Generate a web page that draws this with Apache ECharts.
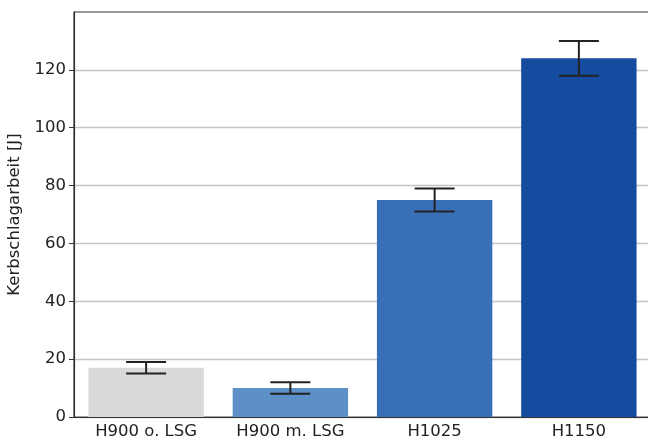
<!DOCTYPE html>
<html>
<head>
<meta charset="utf-8">
<script src="https://cdn.jsdelivr.net/npm/echarts@6/dist/echarts.min.js"></script>
<style>
  html, body { margin: 0; padding: 0; background: #fff; }
  #chart { width: 648px; height: 446px; }
</style>
</head>
<body>
<div id="chart"></div>
<script>
// Daten
const categories = ["H900 o. LSG", "H900 m. LSG", "H1025", "H1150"];
const values = [17, 10, 75, 124];
const errLow = [15, 8, 71, 118];
const errHigh = [19, 12, 79, 130];
const barColors = ["#d9dadc", "#5e90c8", "#3870b8", "#154ca0"];
const yTicks = [0, 20, 40, 60, 80, 100, 120];

let myChart = echarts.init(document.getElementById("chart"));

myChart.setOption({
  animation: false,
  textStyle: { fontFamily: "DejaVu Sans" },
  grid: {
    top: 12,
    left: 74,
    right: -3,
    bottom: 29,
    containLabel: false,
    outerBoundsMode: "none",
    show: true,
    borderColor: "#333",
    borderWidth: 1.2,
  },
  xAxis: {
    type: "category",
    data: categories,
    axisLine: { lineStyle: { color: "#333", width: 1.2 } },
    axisTick: { alignWithLabel: true, length: 5, lineStyle: { color: "#333" } },
    axisLabel: { color: "#222", fontSize: 16.5, margin: 6 },
  },
  yAxis: {
    type: "value",
    min: 0,
    max: 140,
    interval: 20,
    name: "Kerbschlagarbeit [J]",
    nameLocation: "middle",
    nameGap: 48,
    nameTextStyle: { color: "#222", fontSize: 16.5 },
    axisLine: { show: true, lineStyle: { color: "#333", width: 1.2 } },
    axisTick: { show: true, length: 5, lineStyle: { color: "#333" }, customValues: yTicks },
    axisLabel: { color: "#222", fontSize: 16.5, margin: 8, customValues: yTicks },
    splitLine: { lineStyle: { color: "#c4c4c4", width: 1.3 } },
  },
  series: [
    {
      type: "bar",
      barWidth: "80%",
      data: values.map((v, i) => ({ value: v, itemStyle: { color: barColors[i] } })),
    },
    {
      // Fehlerbalken
      type: "custom",
      data: categories.map((c, i) => [i, errLow[i], errHigh[i]]),
      renderItem: function (params, api) {
        let lo = api.coord([api.value(0), api.value(1)]);
        let hi = api.coord([api.value(0), api.value(2)]);
        let hw = 20;
        let style = { stroke: "#222", lineWidth: 2 };
        return {
          type: "group",
          children: [
            { type: "line", shape: { x1: hi[0], y1: hi[1], x2: lo[0], y2: lo[1] }, style: style },
            { type: "line", shape: { x1: hi[0] - hw, y1: hi[1], x2: hi[0] + hw, y2: hi[1] }, style: style },
            { type: "line", shape: { x1: lo[0] - hw, y1: lo[1], x2: lo[0] + hw, y2: lo[1] }, style: style },
          ],
        };
      },
      z: 10,
    },
  ],
});
</script>
</body>
</html>
